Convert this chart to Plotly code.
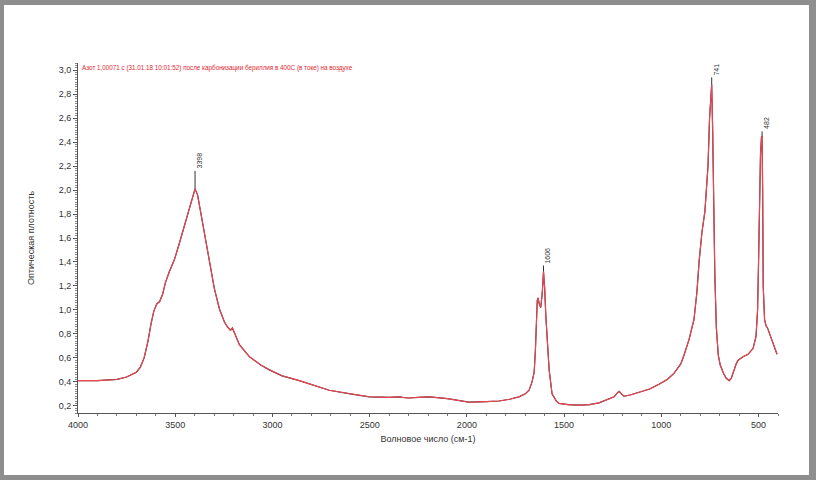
import plotly.graph_objects as go

# IR spectrum (wavenumber, cm-1 -> optical density)
wavenumber = [
    4000, 3900, 3800, 3750, 3700, 3680, 3660, 3640, 3625, 3610, 3595, 3580,
    3565, 3550, 3530, 3504, 3478, 3453, 3427, 3410, 3398, 3385, 3376, 3350,
    3324, 3299, 3273, 3247, 3232, 3216, 3206, 3196, 3170, 3119, 3060, 3016,
    2950, 2862, 2780, 2708, 2600, 2502, 2400, 2348, 2330, 2300, 2250, 2194,
    2100, 1989, 1900, 1835, 1780, 1732, 1700, 1680, 1665, 1654, 1648, 1644,
    1638, 1634, 1628, 1620, 1612, 1606, 1600, 1594, 1588, 1577, 1562, 1540,
    1526, 1480, 1423, 1370, 1320, 1280, 1243, 1225, 1217, 1205, 1192, 1160,
    1115, 1060, 1012, 970, 935, 900, 884, 858, 832, 817, 806, 791, 776, 765,
    760, 752, 746, 741, 736, 733, 725, 717, 707, 697, 680, 666, 651, 640, 630,
    615, 605, 580, 554, 528, 513, 505, 500, 495, 490, 485, 482, 479, 476, 469,
    462, 454, 439, 418, 405,
]
absorbance = [
    0.41, 0.41, 0.42, 0.44, 0.48, 0.52, 0.60, 0.74, 0.88, 0.99, 1.05, 1.07,
    1.13, 1.23, 1.32, 1.42, 1.56, 1.70, 1.84, 1.95, 2.01, 1.96, 1.88, 1.64,
    1.40, 1.18, 1.01, 0.90, 0.86, 0.83, 0.85, 0.81, 0.71, 0.61, 0.54, 0.50,
    0.45, 0.41, 0.37, 0.33, 0.30, 0.275, 0.27, 0.275, 0.27, 0.265, 0.27, 0.275,
    0.26, 0.23, 0.235, 0.24, 0.255, 0.275, 0.30, 0.33, 0.40, 0.48, 0.65, 0.85,
    1.08, 1.10, 1.05, 1.02, 1.15, 1.32, 1.18, 0.95, 0.78, 0.50, 0.30, 0.24,
    0.22, 0.21, 0.205, 0.21, 0.225, 0.25, 0.275, 0.31, 0.32, 0.30, 0.28, 0.29,
    0.31, 0.34, 0.38, 0.42, 0.47, 0.55, 0.62, 0.75, 0.92, 1.15, 1.40, 1.65,
    1.82, 2.05, 2.20, 2.60, 2.82, 2.88, 2.50, 2.00, 1.30, 0.85, 0.62, 0.54,
    0.47, 0.43, 0.41, 0.43, 0.48, 0.55, 0.58, 0.61, 0.63, 0.68, 0.78, 1.00,
    1.40, 2.00, 2.30, 2.44, 2.45, 2.00, 1.20, 0.92, 0.87, 0.85, 0.78, 0.68,
    0.63,
]

# peak picks: position, top of curve, top of leader line
peak_wn = [3398, 1606, 741, 482]
peak_abs = [2.01, 1.32, 2.88, 2.45]
peak_label_abs = [2.16, 1.37, 2.94, 2.49]

spectrum_title = ("Азот 1,00071 с (31.01.18 10:01:52) после карбонизации "
                  "бериллия в 400С (в токе) на воздухе")

fig = go.Figure()

# dark trace under the red one gives the mottled edge seen in the reference
fig.add_trace(go.Scatter(
    x=wavenumber, y=absorbance, mode="lines",
    line=dict(color="#4a2a2e", width=1.2), hoverinfo="skip", showlegend=False,
))
fig.add_trace(go.Scatter(
    x=wavenumber, y=absorbance, mode="lines",
    line=dict(color="#ee4652", width=1.1), showlegend=False,
))

# peak leader lines + labels
for wn, y0, y1 in zip(peak_wn, peak_abs, peak_label_abs):
    fig.add_trace(go.Scatter(
        x=[wn, wn], y=[y0, y1], mode="lines",
        line=dict(color="#333333", width=1), hoverinfo="skip", showlegend=False,
    ))
    fig.add_annotation(
        x=wn, y=y1, text=str(wn), showarrow=False, textangle=-90,
        xanchor="left", yanchor="bottom", xshift=-1,
        font=dict(family="Liberation Sans", size=7, color="#333333"),
    )

fig.add_annotation(
    xref="paper", yref="paper", x=0.003, y=0.985, xanchor="left", yanchor="middle",
    text=spectrum_title, showarrow=False,
    font=dict(family="Liberation Sans", size=6.3, color="#e3262f"),
)

# grey frame round the whole picture
fig.add_shape(
    type="rect", xref="paper", yref="paper", layer="below",
    x0=(4 - 78) / 700, x1=(809 - 78) / 700,
    y0=(413 - 475) / 350, y1=(413 - 5) / 350,
    fillcolor="white", line=dict(width=0),
)

fig.update_layout(
    width=816, height=480,
    margin=dict(l=78, r=38, t=63, b=67),
    paper_bgcolor="#8e8e8e",
    plot_bgcolor="white",
    separators=", ",
    showlegend=False,
    font=dict(family="Liberation Sans", size=9, color="#333333"),
)
fig.update_xaxes(
    range=[4000, 400], showgrid=False, zeroline=False,
    showline=True, linecolor="#555555", linewidth=1,
    tickmode="array", tickvals=[4000, 3500, 3000, 2500, 2000, 1500, 1000, 500],
    ticktext=["4000", "3500", "3000", "2500", "2000", "1500", "1000", "500"],
    ticks="outside", ticklen=3, tickcolor="#555555",
    minor=dict(dtick=100, tick0=0, ticks="outside", ticklen=2, tickcolor="#777777"),
    tickfont=dict(size=9, color="#333333"),
    title=dict(text="Волновое число (см-1)", font=dict(size=9, color="#333333"),
               standoff=6),
)
fig.update_yaxes(
    range=[0.14, 3.06], showgrid=False, zeroline=False,
    showline=True, linecolor="#555555", linewidth=1,
    dtick=0.2, tick0=0, tickformat=".1f",
    ticks="outside", ticklen=4, tickcolor="#555555",
    minor=dict(dtick=0.02, tick0=0, ticks="outside", ticklen=2, tickcolor="#888888"),
    tickfont=dict(size=9, color="#333333"),
    title=dict(text="Оптическая плотность", font=dict(size=9, color="#333333"),
               standoff=22),
)

# drop the default body margin so the figure sits at the page corner
fig.write_html(
    "out.html",
    config={"displayModeBar": False},
    post_script="document.body.style.margin='0';document.body.style.overflow='hidden';",
)
